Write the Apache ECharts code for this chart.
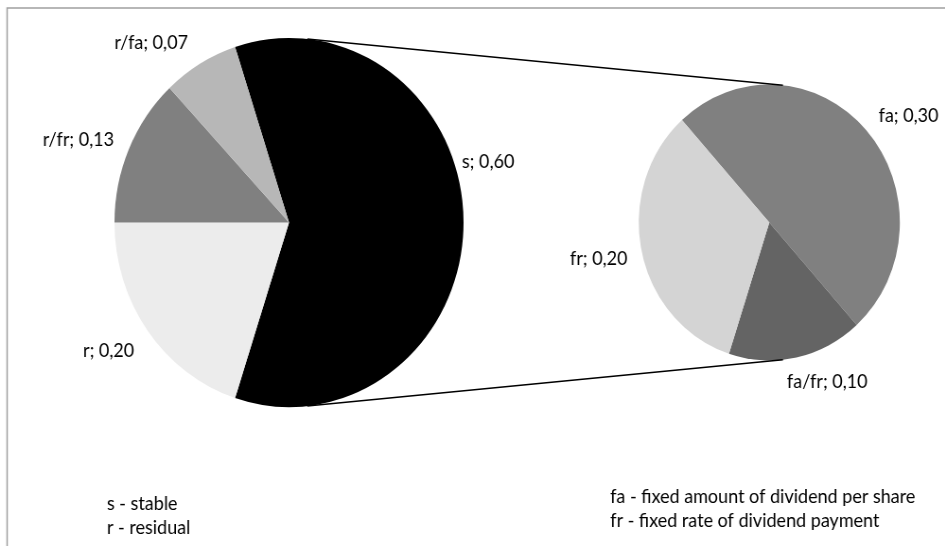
<!DOCTYPE html>
<html>
<head>
<meta charset="utf-8">
<script src="https://cdn.jsdelivr.net/npm/echarts@6/dist/echarts.min.js"></script>
<style>
  html, body { margin: 0; padding: 0; background: #fff; overflow: hidden; }
  #wrap { width: 945px; height: 546px; overflow: hidden; position: relative; }
  /* chart is laid out wider and squeezed horizontally, giving the narrow type and slightly tall pies */
  #chart { width: 999px; height: 546px; transform: scaleX(0.946); transform-origin: 0 0; }
</style>
</head>
<body>
<div id="wrap"><div id="chart"></div></div>
<script>
// Main pie: dividend policy types
const mainNames  = ['s', 'r', 'r/fr', 'r/fa'];
const mainValues = [0.60, 0.20, 0.13, 0.07];
const mainColors = ['#000000', '#ececec', '#808080', '#b7b7b7'];

// Secondary pie: breakdown of the "s" slice
const subNames  = ['fa', 'fa/fr', 'fr'];
const subValues = [0.30, 0.10, 0.20];
const subColors = ['#808080', '#646464', '#d4d4d4'];

// Footnotes
const notesLeft  = ['s - stable', 'r - residual'];
const notesRight = ['fa - fixed amount of dividend per share', 'fr - fixed rate of dividend payment'];

const FONT = 'Lato, "Open Sans", sans-serif';
const FS = 19;

// geometry (chart pixels, before the horizontal squeeze)
const mainCenter = [305.5, 222.5], mainR = 184.5;
const subCenter  = [813.2, 222.5], subR  = 138;

// the split slice is centred on the right-hand side of the main pie
const mainStart = 90 - 360 * mainValues[0] / mainValues.reduce((a, b) => a + b, 0) / 2; // clockwise from 12 o'clock
const subStart = -42;

// label placement: angular nudge and gap beyond the rim, per slice
const mainLabelShift = [-16, 2, -3, -8.5], mainLabelGap = [34.5, 45.5, 53, 46.5];
const subLabelShift  = [6, -9, 0.5],       subLabelGap  = [44, 33, 46];

function polar(c, r, deg) {
  const a = deg * Math.PI / 180;
  return [c[0] + r * Math.sin(a), c[1] - r * Math.cos(a)];
}
function midAngles(values, start) {
  const total = values.reduce((a, b) => a + b, 0);
  let acc = start;
  return values.map(v => { const span = 360 * v / total; const m = acc + span / 2; acc += span; return m; });
}
const mainMid = midAngles(mainValues, mainStart);
const subMid  = midAngles(subValues, subStart);
const mainLabelPos = mainMid.map((m, i) => polar(mainCenter, mainR + mainLabelGap[i], m + mainLabelShift[i]));
const subLabelPos  = subMid.map((m, i) => polar(subCenter, subR + subLabelGap[i], m + subLabelShift[i]));

const fmt = p => p.name + '; ' + p.value.toFixed(2).replace('.', ',');

function pieSeries(names, values, colors, center, r, start, labelPos) {
  return {
    type: 'pie',
    center: center,
    radius: r,
    startAngle: 90 - start,
    clockwise: true,
    animation: false,
    silent: true,
    data: names.map((n, i) => ({ name: n, value: values[i], itemStyle: { color: colors[i] } })),
    itemStyle: { borderWidth: 0 },
    label: {
      show: true, position: 'outside', formatter: fmt, color: '#000',
      fontFamily: FONT, fontSize: FS, overflow: 'none', width: 200, edgeDistance: 0, bleedMargin: 0
    },
    labelLine: { show: false },
    labelLayout: p => ({ x: labelPos[p.dataIndex][0], y: labelPos[p.dataIndex][1], align: 'center', verticalAlign: 'middle' }),
    emphasis: { disabled: true }
  };
}

// connector lines between the two pies
const connAngle = 6;
const lt = polar(mainCenter, mainR, connAngle), rt = polar(subCenter, subR, connAngle);
const lb = polar(mainCenter, mainR, 180 - connAngle), rb = polar(subCenter, subR, 180 - connAngle);

const graphics = [
  { type: 'rect', shape: { x: 7.5, y: 8, width: 1100, height: 700 }, style: { fill: null, stroke: '#a0a0a0', lineWidth: 1.5 }, silent: true },
  { type: 'line', shape: { x1: lt[0], y1: lt[1], x2: rt[0], y2: rt[1] }, style: { stroke: '#000', lineWidth: 1.5 }, z: 10 },
  { type: 'line', shape: { x1: lb[0], y1: lb[1], x2: rb[0], y2: rb[1] }, style: { stroke: '#000', lineWidth: 1.5 }, z: 10 }
];
notesLeft.forEach((t, i) => graphics.push({
  type: 'text', left: 113, top: 494 + i * 24,
  style: { text: t, fill: '#000', font: FS + 'px ' + FONT }
}));
notesRight.forEach((t, i) => graphics.push({
  type: 'text', left: 645, top: 487 + i * 24,
  style: { text: t, fill: '#000', font: FS + 'px ' + FONT }
}));

const chart = echarts.init(document.getElementById('chart'), null, { renderer: 'canvas' });
chart.setOption({
  animation: false,
  backgroundColor: '#fff',
  graphic: graphics,
  series: [
    pieSeries(mainNames, mainValues, mainColors, mainCenter, mainR, mainStart, mainLabelPos),
    pieSeries(subNames, subValues, subColors, subCenter, subR, subStart, subLabelPos)
  ]
});
</script>
</body>
</html>
